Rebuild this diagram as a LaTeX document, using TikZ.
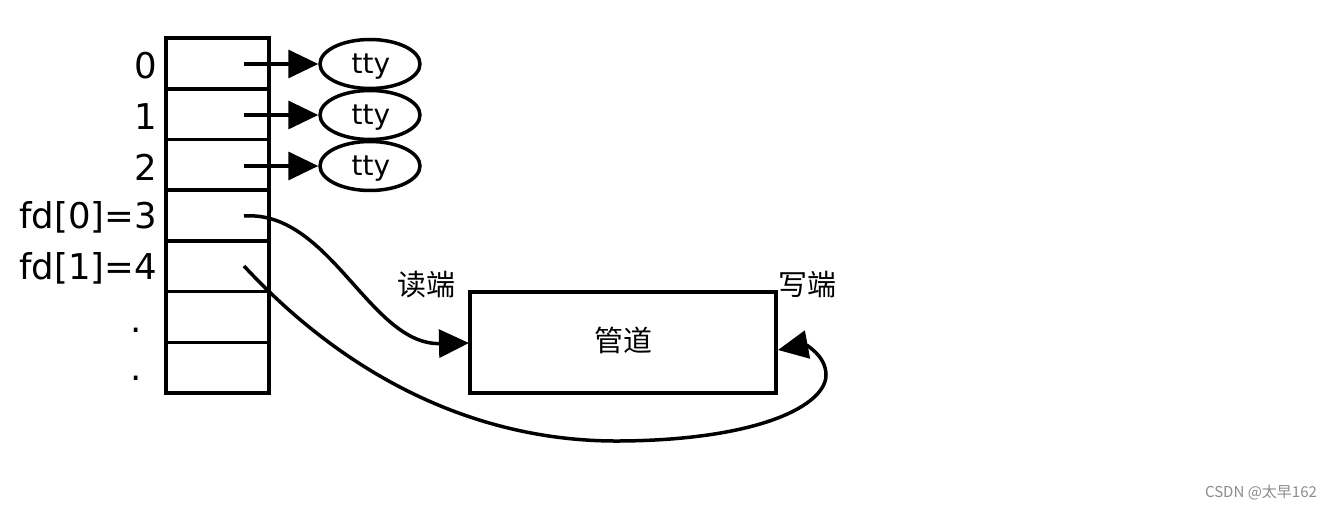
\documentclass[tikz,border=0pt]{standalone}
\usepackage{fontspec}
\setmainfont{DejaVu Sans}
\newfontfamily\cjk{Noto Sans CJK SC}
\usetikzlibrary{shapes.geometric,arrows.meta}
\begin{document}
\begin{tikzpicture}[x=1pt,y=-1pt,
  cell/.style={draw,line width=3.5pt,minimum width=103pt,minimum height=50.7pt,inner sep=0pt},
  lab/.style={anchor=east,inner sep=0pt,font=\fontsize{35.5}{35.5}\selectfont},
  tty/.style={draw,ellipse,line width=3.5pt,minimum width=100pt,minimum height=49pt,inner sep=0pt},
  ttytext/.style={inner sep=0pt,font=\fontsize{28}{28}\selectfont},
  conn/.style={line width=3.5pt,-{Triangle[length=30pt,width=28pt]}},
  cjklab/.style={inner sep=0pt,font=\cjk\fontsize{29}{29}\selectfont}]
\useasboundingbox (0,0) rectangle (1332,510);
\fill[white] (0,0) rectangle (1332,510);
\foreach \i/\y in {0/63.5,1/114.2,2/164.9,3/215.6,4/266.3,5/317,6/367.7}{
  \node[cell] (r\i) at (217.5,\y) {};
}
\node[lab] (l0) at (157,66) {0};
\node[lab] (l1) at (157,117) {1};
\node[lab] (l2) at (157,167) {2};
\node[lab] (l3) at (157,217) {fd[0]=3};
\node[lab] (l4) at (157,268) {fd[1]=4};
\node[lab] (l5) at (142,330) {.};
\node[lab] (l6) at (142,378) {.};
\node[tty] (t0) at (370,64) {};
\node[tty] (t1) at (370,115) {};
\node[tty] (t2) at (370,166) {};
\node[ttytext] (x0) at (371,67) {tty};
\node[ttytext] (x1) at (371,118) {tty};
\node[ttytext] (x2) at (371,169) {tty};
\coordinate (s0) at (244,64);
\coordinate (s1) at (244,115);
\coordinate (s2) at (244,166);
\coordinate (s3) at (244,216);
\coordinate (s4) at (244,266);
\draw[conn] (s0) -- (t0.west);
\draw[conn] (s1) -- (t1.west);
\draw[conn] (s2) -- (t2.west);
\node[draw,line width=3.5pt,minimum width=306pt,minimum height=101pt,inner sep=0pt] (pipe) at (623,342.5) {};
\node[cjklab] (pt) at (623,340) {管道};
\node[cjklab] (rd) at (426,285) {读端};
\node[cjklab] (wr) at (807,285) {写端};
\coordinate (pw) at (469,343);
\coordinate (pe) at (778,350);
\draw[conn] (s3) .. controls (330,210) and (370,345) .. (pw);
\draw[conn] (s4) .. controls (350,380) and (480,442) .. (620,441)
  .. controls (760,440) and (826,405) .. (826,375)
  .. controls (826,355) and (805,345) .. (pe);
\node[inner sep=0pt,text=black!45,font=\cjk\fontsize{15}{15}\selectfont] (wm) at (1261,493) {CSDN @太早162};
\end{tikzpicture}
\end{document}
